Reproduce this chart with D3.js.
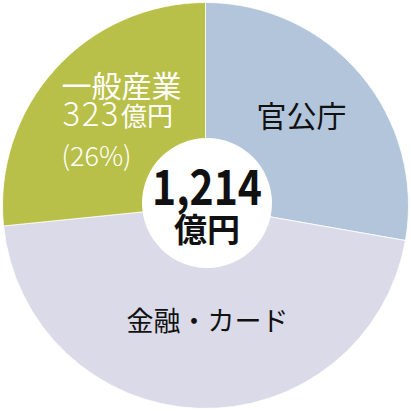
<!DOCTYPE html>
<html>
<head>
<meta charset="utf-8">
<script src="https://cdn.jsdelivr.net/npm/d3@7"></script>
<style>
  html, body { margin: 0; padding: 0; background: #fff; }
  svg { display: block; }
</style>
</head>
<body>
<div id="wrapper"></div>
<script>
const categories = ["官公庁", "金融・カード", "一般産業"];
const values = [337, 554, 323];
const colors = ["#b2c5da", "#dbdae8", "#b8c04a"];
const totalLabel = "1,214";
const unitLabel = "億円";
const shareLabel = "(26%)";

function buildChart() {
    const dimension = {
        width: 411,
        height: 411,
        cx: 205.5,
        cy: 205.5,
        radius: 203
    };

    const svg = d3.select("#wrapper").append("svg")
        .attr("width", dimension.width)
        .attr("height", dimension.height);

    const bounded = svg.append("g")
        .attr("transform", `translate(${dimension.cx}, ${dimension.cy})`);

    const pie = d3.pie().sort(null).value(d => d.value);
    const arcs = pie(categories.map((c, i) => ({ name: c, value: values[i] })));

    const arc = d3.arc().innerRadius(0).outerRadius(dimension.radius);

    bounded.selectAll("path")
        .data(arcs)
        .join("path")
        .attr("d", arc)
        .attr("fill", (d, i) => colors[i])
        .attr("stroke", "#ffffff")
        .attr("stroke-width", 0.8);

    const font = "'Noto Sans CJK JP', 'Noto Sans', sans-serif";

    // 官公庁
    bounded.append("text")
        .attr("x", 96)
        .attr("y", -92)
        .attr("text-anchor", "middle")
        .attr("dominant-baseline", "central")
        .style("font-family", font)
        .style("font-size", "30px")
        .style("fill", "#111")
        .text(categories[0]);

    // 金融・カード
    bounded.append("text")
        .attr("x", 2)
        .attr("y", 114)
        .attr("text-anchor", "middle")
        .attr("dominant-baseline", "central")
        .style("font-family", font)
        .style("font-size", "27px")
        .style("fill", "#111")
        .text(categories[1]);

    // 一般産業
    const green = bounded.append("g").style("fill", "#fff").style("font-family", font);
    green.append("text")
        .attr("x", -84)
        .attr("y", -122)
        .attr("text-anchor", "middle")
        .attr("dominant-baseline", "central")
        .style("font-size", "30px")
        .text(categories[2]);

    const amount = green.append("text")
        .attr("x", -143)
        .attr("y", -80)
        .style("font-size", "33px");
    amount.append("tspan")
        .style("font-weight", 300)
        .style("letter-spacing", "1.5px")
        .text(values[2]);
    amount.append("tspan")
        .attr("dx", 1)
        .style("font-size", "26px")
        .text(unitLabel);

    green.append("text")
        .attr("x", -144)
        .attr("y", -40)
        .style("font-size", "27px")
        .style("font-weight", 300)
        .text(shareLabel);

    // center
    const center = svg.append("g").attr("transform", "translate(207, 203)");
    center.append("circle")
        .attr("r", 65)
        .attr("fill", "#ffffff");
    center.append("text")
        .attr("x", 0)
        .attr("y", 2)
        .attr("text-anchor", "middle")
        .attr("textLength", 110)
        .attr("lengthAdjust", "spacingAndGlyphs")
        .style("font-family", font)
        .style("font-size", "49px")
        .style("font-weight", 700)
        .style("fill", "#111")
        .text(totalLabel);
    center.append("text")
        .attr("x", 0)
        .attr("y", 39)
        .attr("text-anchor", "middle")
        .style("font-family", font)
        .style("font-size", "33px")
        .style("font-weight", 700)
        .style("fill", "#111")
        .text(unitLabel);
}

buildChart();
</script>
</body>
</html>
